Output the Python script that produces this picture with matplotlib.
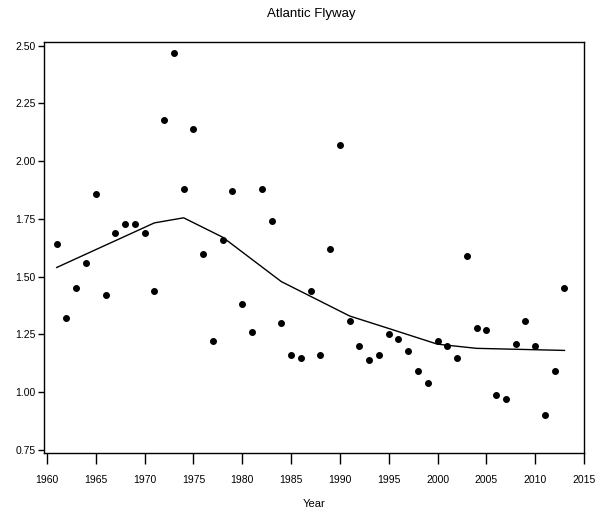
import matplotlib
matplotlib.use("Agg")
import matplotlib.pyplot as plt

# Observed values by year
years = list(range(1961, 2014))
values = [1.64, 1.32, 1.45, 1.56, 1.86, 1.42, 1.69, 1.73, 1.73, 1.69,
          1.44, 2.18, 2.47, 1.88, 2.14, 1.60, 1.22, 1.66, 1.87, 1.38,
          1.26, 1.88, 1.74, 1.30, 1.16, 1.15, 1.44, 1.16, 1.62, 2.07,
          1.31, 1.20, 1.14, 1.16, 1.25, 1.23, 1.18, 1.09, 1.04, 1.22,
          1.20, 1.15, 1.59, 1.28, 1.27, 0.99, 0.97, 1.21, 1.31, 1.20,
          0.90, 1.09, 1.45]

# Smoothed trend
trend_years = [1961, 1971, 1974, 1978, 1984, 1991, 1995, 2000, 2004, 2013]
trend_values = [1.54, 1.733, 1.755, 1.671, 1.479, 1.33, 1.276, 1.208, 1.19, 1.181]

x_ticks = list(range(1960, 2016, 5))
y_ticks = [0.75, 1.00, 1.25, 1.50, 1.75, 2.00, 2.25, 2.50]

plt.rcParams['font.family'] = ['Liberation Sans', 'DejaVu Sans']

W, H = 603, 516
fig = plt.figure(figsize=(W / 100, H / 100), dpi=100)
ax = fig.add_axes([44 / W, (H - 453) / H, (584 - 44) / W, (453 - 42) / H])

ax.plot(years, values, linestyle='none', marker='o', markersize=4.0,
        color='black')
ax.plot(trend_years, trend_values, color='black', linewidth=1.0)

ax.set_xlim(1959.7, 2015)
ax.set_ylim(0.737, 2.516)
ax.set_xticks(x_ticks)
ax.set_xticklabels([str(t) for t in x_ticks])
ax.set_yticks(y_ticks)
ax.set_yticklabels([f"{t:.2f}" for t in y_ticks])

ax.tick_params(axis='x', direction='out', length=8, width=1, pad=8,
               labelsize=7.5)
ax.tick_params(axis='y', direction='out', length=4, width=1, pad=2,
               labelsize=7.5)
for s in ax.spines.values():
    s.set_linewidth(1.0)

ax.set_xlabel("Year", fontsize=8, labelpad=10)
fig.text(311 / W, 1 - 14 / H, "Atlantic Flyway", ha='center', va='center',
         fontsize=9.5)

fig.savefig("out.png", dpi=100)
